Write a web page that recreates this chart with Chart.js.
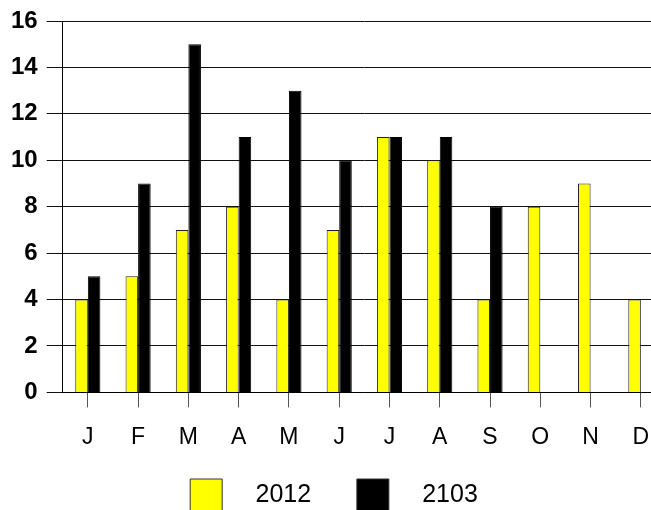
<!DOCTYPE html>
<html>
<head>
<meta charset="utf-8">
<script src="https://cdn.jsdelivr.net/npm/chart.js@4/dist/chart.umd.min.js"></script>
<style>
html,body{margin:0;padding:0;background:#fff;overflow:hidden;width:651px;height:510px;}
#wrap{position:absolute;left:0;top:0;width:680px;height:521px;}
</style>
</head>
<body>
<div id="wrap"><canvas id="c" width="680" height="521"></canvas></div>
<script>
const categories = ['J','F','M','A','M','J','J','A','S','O','N','D'];
const seriesNames = ['2012','2103'];
const values2012 = [4,5,7,8,4,7,11,10,4,8,9,4];
const values2103 = [5,9,15,11,13,10,11,11,8,null,null,null];
const yTicks = [0,2,4,6,8,10,12,14,16];

new Chart(document.getElementById('c'), {
  type: 'bar',
  data: {
    labels: categories,
    datasets: [
      {label: seriesNames[0], data: values2012, backgroundColor: '#ffff00', borderColor: '#222', borderWidth: 1, categoryPercentage: 0.5, barPercentage: 1},
      {label: seriesNames[1], data: values2103, backgroundColor: '#000000', borderColor: '#000', borderWidth: 1, categoryPercentage: 0.5, barPercentage: 1}
    ]
  },
  options: {
    responsive: false,
    animation: false,
    devicePixelRatio: 1,
    layout: {padding: {left: 2, top: 8, right: 14, bottom: 0}},
    plugins: {
      tooltip: {enabled: false},
      legend: {
        position: 'bottom',
        labels: {
          boxWidth: 32, boxHeight: 32, padding: 11, color: '#000',
          font: {family: 'Liberation Sans, Arial, sans-serif', size: 25},
          generateLabels: (chart) => chart.data.datasets.map((ds, i) => ({
            text: '   ' + ds.label + (i === 0 ? '     ' : ''), fillStyle: ds.backgroundColor, strokeStyle: '#333', lineWidth: 1, datasetIndex: i, hidden: false
          }))
        }
      }
    },
    scales: {
      x: {
        grid: {offset: false, drawOnChartArea: false, drawTicks: true, tickLength: 15, color: '#555'},
        border: {display: true, color: '#000'},
        ticks: {color: '#000', padding: 16.5, font: {family: 'Liberation Sans, Arial, sans-serif', size: 23}}
      },
      y: {
        min: 0, max: 16,
        afterBuildTicks: (s) => { s.ticks = yTicks.map(v => ({value: v})); },
        grid: {color: '#111', lineWidth: 1, tickLength: 16, drawTicks: true},
        border: {display: true, color: '#000'},
        ticks: {color: '#000', padding: 9, font: {family: 'Liberation Sans, Arial, sans-serif', size: 24, weight: 'bold', lineHeight: 1.0}}
      }
    }
  }
});
</script>
</body>
</html>
